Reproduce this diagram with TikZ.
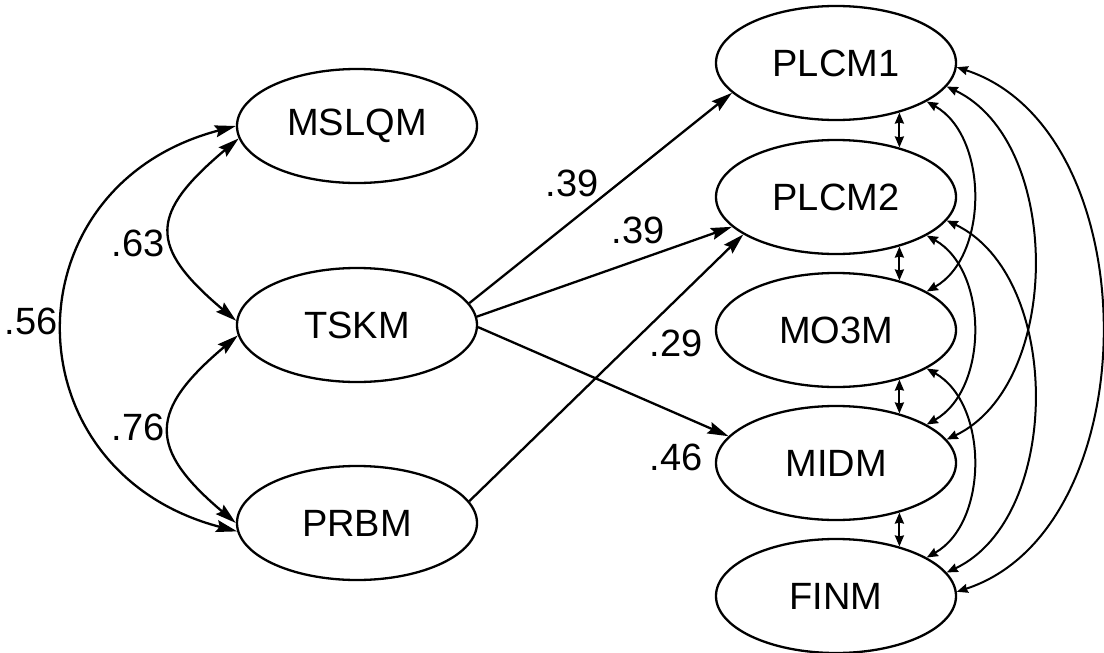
\documentclass[tikz,border=0pt]{standalone}
\usepackage{fontspec}
\setmainfont{Liberation Sans}
\usetikzlibrary{shapes.geometric,arrows.meta}
\begin{document}
\begin{tikzpicture}[x=1pt,y=-1pt,
  var/.style={ellipse,draw,line width=2.3pt,minimum width=240pt,minimum height=114pt,inner sep=0pt,font=\fontsize{38}{42}\selectfont},
  lbl/.style={font=\fontsize{38}{42}\selectfont,inner sep=0pt},
  big/.style={line width=2.3pt,-{Stealth[length=21pt,width=12pt,inset=3pt]}},
  bigboth/.style={line width=2.3pt,{Stealth[length=21pt,width=12pt,inset=3pt]}-{Stealth[length=21pt,width=12pt,inset=3pt]}},
  smallboth/.style={line width=2pt,{Stealth[length=11pt,width=9pt,inset=1pt]}-{Stealth[length=11pt,width=9pt,inset=1pt]}}]
\useasboundingbox (0,0) rectangle (1104,653);

\node[var] (MSLQM) at (357,126) {MSLQM};
\node[var] (TSKM) at (357,325) {TSKM};
\node[var] (PRBM) at (357,523) {PRBM};
\node[var] (PLCM1) at (836,63) {PLCM1};
\node[var] (PLCM2) at (836,197) {PLCM2};
\node[var] (MO3M) at (836,330) {MO3M};
\node[var] (MIDM) at (836,463) {MIDM};
\node[var] (FINM) at (836,596) {FINM};

% labels
\node[lbl] (l56) at (31,321) {.56};
\node[lbl] (l63) at (138,243) {.63};
\node[lbl] (l76) at (138,427) {.76};
\node[lbl] (l39a) at (572,183) {.39};
\node[lbl] (l39b) at (638,230) {.39};
\node[lbl] (l29) at (676,343) {.29};
\node[lbl] (l46) at (676,457) {.46};

% straight paths
\draw[big] (TSKM.11) -- (PLCM1.196);
\draw[big] (TSKM.4) -- (PLCM2.196);
\draw[big] (PRBM.11) -- (PLCM2.202);
\draw[big] (TSKM.359) -- (MIDM.166);

% left correlations
\draw[bigboth] (MSLQM.186) .. controls +(-89,75) and +(-89,-75) .. (TSKM.178);
\draw[bigboth] (TSKM.185) .. controls +(-89,75) and +(-89,-75) .. (PRBM.180);
\draw[bigboth] (MSLQM.180) .. controls +(-230,60) and +(-230,-60) .. (PRBM.184);

% right correlations: neighbours
\draw[smallboth] (PLCM1.322) -- (PLCM2.38);
\draw[smallboth] (PLCM2.322) -- (MO3M.38);
\draw[smallboth] (MO3M.322) -- (MIDM.38);
\draw[smallboth] (MIDM.322) -- (FINM.38);

% right correlations: gap 2
\draw[smallboth] (PLCM1.337) .. controls +(62,35) and +(62,-35) .. (MO3M.23);
\draw[smallboth] (PLCM2.337) .. controls +(62,35) and +(62,-35) .. (MIDM.23);
\draw[smallboth] (MO3M.337) .. controls +(62,35) and +(62,-35) .. (FINM.23);
% gap 3
\draw[smallboth] (PLCM1.348) .. controls +(116,55) and +(116,-55) .. (MIDM.12);
\draw[smallboth] (PLCM2.348) .. controls +(116,55) and +(116,-55) .. (FINM.12);
% gap 4
\draw[smallboth] (PLCM1.358) .. controls +(193,63) and +(193,-63) .. (FINM.2);
\end{tikzpicture}
\end{document}
